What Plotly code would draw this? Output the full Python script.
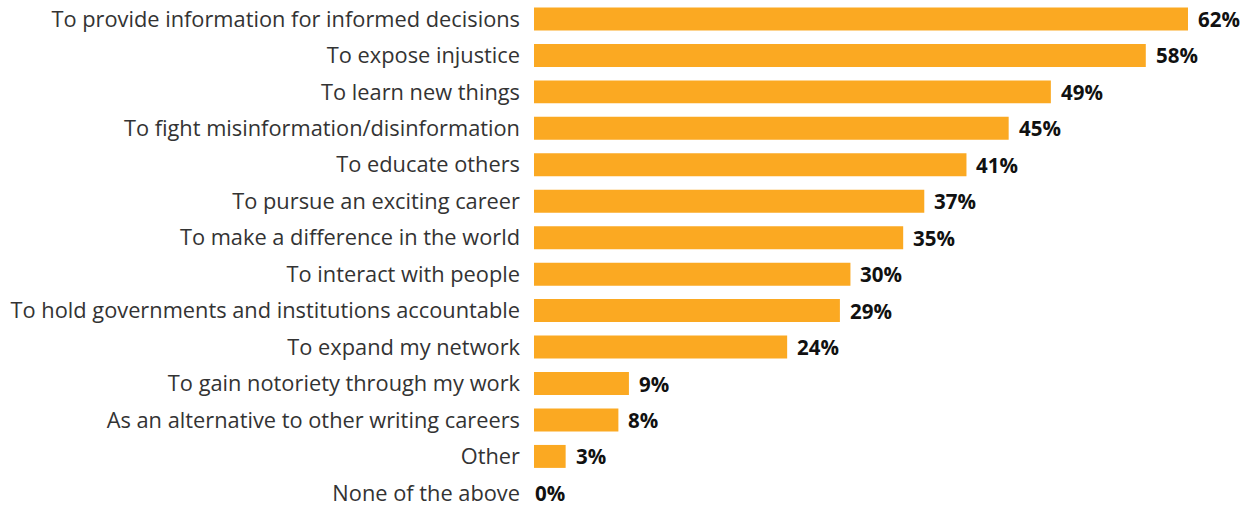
import plotly.graph_objects as go

reasons = [
    "To provide information for informed decisions",
    "To expose injustice",
    "To learn new things",
    "To fight misinformation/disinformation",
    "To educate others",
    "To pursue an exciting career",
    "To make a difference in the world",
    "To interact with people",
    "To hold governments and institutions accountable",
    "To expand my network",
    "To gain notoriety through my work",
    "As an alternative to other writing careers",
    "Other",
    "None of the above",
]
shares = [62, 58, 49, 45, 41, 37, 35, 30, 29, 24, 9, 8, 3, 0]

BAR_COLOR = "#FBA922"
LABEL_FONT = "Open Sans"

fig = go.Figure(
    go.Bar(
        x=shares,
        y=reasons,
        orientation="h",
        marker=dict(color=BAR_COLOR, line=dict(width=0)),
        width=0.63,
        cliponaxis=False,
        hoverinfo="skip",
    )
)

# value labels just past the end of each bar (flush with the axis when empty)
for reason, v in zip(reasons, shares):
    fig.add_annotation(
        x=v,
        y=reason,
        xref="x",
        yref="y",
        text=f"<b>{v}%</b>",
        showarrow=False,
        xanchor="left",
        yanchor="middle",
        xshift=8 if v > 0 else -1,
        font=dict(family=LABEL_FONT, size=20.5, color="#111111"),
    )

fig.update_layout(
    width=1246,
    height=506,
    margin=dict(l=534, r=0, t=0, b=0),
    paper_bgcolor="white",
    plot_bgcolor="white",
    showlegend=False,
    font=dict(family=LABEL_FONT, size=20, color="#2e2e2e"),
)
fig.update_xaxes(
    range=[0, 67.5],
    visible=False,
    showgrid=False,
    zeroline=False,
)
fig.update_yaxes(
    type="category",
    categoryorder="array",
    categoryarray=reasons,
    range=[13.36, -0.52],
    showgrid=False,
    zeroline=False,
    showline=False,
    ticks="",
    ticklabelstandoff=13,
    tickfont=dict(family=LABEL_FONT, size=21.8, color="#333333"),
)

fig.write_html("out.html")
